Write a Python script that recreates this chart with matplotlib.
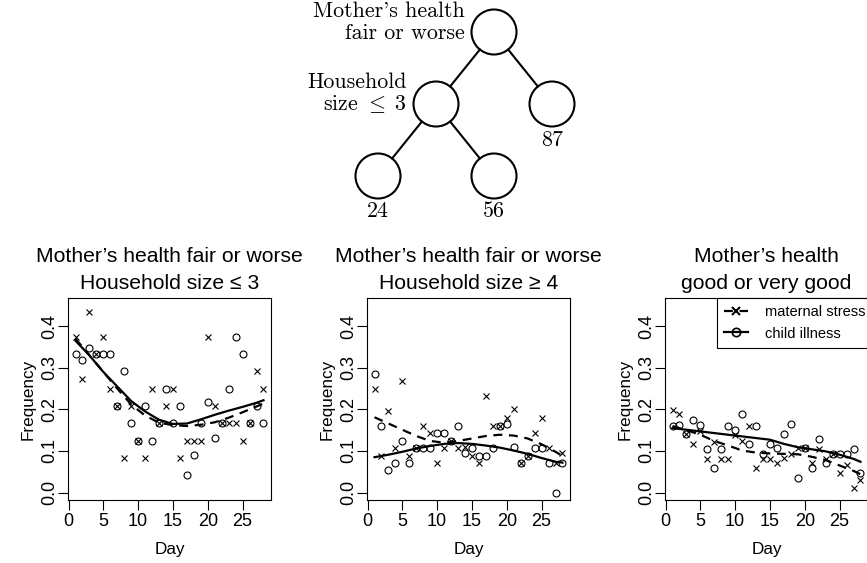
import numpy as np
import matplotlib
matplotlib.use("Agg")
import matplotlib.pyplot as plt
from matplotlib import font_manager
from matplotlib.lines import Line2D
from matplotlib.patches import Circle

# ---- data ----
days = list(range(1, 29))
fit_days = [1, 3, 5, 7, 9, 11, 13, 15, 17, 19, 21, 23, 25, 27, 28]

# panel 1: mother's health fair or worse, household size <= 3
p1_stress = [0.375, 0.273, 0.435, 0.333, 0.375, 0.25, 0.208, 0.083, 0.208, 0.125,
             0.083, 0.25, 0.167, 0.208, 0.25, 0.083, 0.125, 0.125, 0.125, 0.375,
             0.208, 0.167, 0.167, 0.167, 0.125, 0.167, 0.292, 0.25]
p1_illness = [0.333, 0.32, 0.348, 0.333, 0.333, 0.333, 0.208, 0.292, 0.167, 0.125,
              0.208, 0.125, 0.167, 0.25, 0.167, 0.208, 0.042, 0.09, 0.167, 0.217,
              0.13, 0.167, 0.25, 0.375, 0.333, 0.167, 0.208, 0.167]
p1_fit_stress = [0.37, 0.33, 0.29, 0.25, 0.212, 0.185, 0.168, 0.162, 0.16, 0.163,
                 0.169, 0.18, 0.193, 0.207, 0.214]
p1_fit_illness = [0.365, 0.33, 0.29, 0.255, 0.22, 0.195, 0.175, 0.165, 0.166, 0.176,
                  0.187, 0.197, 0.206, 0.216, 0.222]

# panel 2: mother's health fair or worse, household size >= 4
p2_stress = [0.25, 0.089, 0.196, 0.107, 0.268, 0.089, 0.107, 0.161, 0.143, 0.071,
             0.107, 0.125, 0.107, 0.11, 0.089, 0.071, 0.232, 0.161, 0.161, 0.179,
             0.2, 0.071, 0.089, 0.143, 0.179, 0.107, 0.071, 0.094]
p2_illness = [0.286, 0.161, 0.054, 0.071, 0.125, 0.071, 0.107, 0.107, 0.107, 0.143,
              0.143, 0.125, 0.161, 0.094, 0.106, 0.089, 0.089, 0.107, 0.161, 0.164,
              0.11, 0.071, 0.089, 0.107, 0.107, 0.071, 0.0, 0.071]
p2_fit_stress = [0.181, 0.166, 0.151, 0.136, 0.124, 0.12, 0.124, 0.13, 0.136, 0.139,
                 0.137, 0.13, 0.116, 0.098, 0.088]
p2_fit_illness = [0.085, 0.091, 0.098, 0.106, 0.112, 0.117, 0.119, 0.117, 0.113, 0.108,
                  0.101, 0.093, 0.083, 0.074, 0.072]

# panel 3: mother's health good or very good
p3_stress = [0.199, 0.19, 0.14, 0.116, 0.149, 0.081, 0.122, 0.081, 0.081, 0.139,
             0.125, 0.161, 0.058, 0.081, 0.081, 0.07, 0.082, 0.093, 0.106, 0.106,
             0.07, 0.105, 0.08, 0.093, 0.046, 0.066, 0.012, 0.03]
p3_illness = [0.161, 0.163, 0.14, 0.175, 0.163, 0.104, 0.06, 0.105, 0.161, 0.151,
              0.19, 0.117, 0.161, 0.092, 0.116, 0.106, 0.14, 0.165, 0.034, 0.106,
              0.058, 0.128, 0.07, 0.093, 0.093, 0.093, 0.105, 0.046]
p3_fit_stress = [0.16, 0.15, 0.139, 0.124, 0.113, 0.101, 0.096, 0.094, 0.093, 0.092,
                 0.086, 0.078, 0.065, 0.052, 0.044]
p3_fit_illness = [0.155, 0.151, 0.147, 0.143, 0.139, 0.135, 0.131, 0.127, 0.117, 0.109,
                  0.104, 0.099, 0.091, 0.081, 0.074]

titles = [("Mother\u2019s health fair or worse", "Household size \u2264 3"),
          ("Mother\u2019s health fair or worse", "Household size \u2265 4"),
          ("Mother\u2019s health", "good or very good")]
series_labels = ["maternal stress", "child illness"]

# tree: node label lines and leaf counts
root_label = ["Mother's health", "fair or worse"]
split_label = ["Household", r"size $\leq\;3$"]
leaf_counts = ["87", "24", "56"]

# ---- fonts ----
installed = {f.name for f in font_manager.fontManager.ttflist}
if "Liberation Sans Narrow" in installed:
    SANS = ["Liberation Sans Narrow", "Liberation Sans", "DejaVu Sans"]
    fs_title, fs_tick, fs_lab, fs_leg = 18, 15, 14.5, 12.5
else:
    SANS = ["Liberation Sans", "DejaVu Sans"]
    fs_title, fs_tick, fs_lab, fs_leg = 15.2, 13, 12.3, 10.5
plt.rcParams["font.family"] = SANS
plt.rcParams["mathtext.fontset"] = "cm"

W, H = 867, 563
fig = plt.figure(figsize=(W / 100, H / 100), dpi=100)


def add_px_axes(left, top, width, height):
    return fig.add_axes([left / W, 1 - (top + height) / H, width / W, height / H])


def panel(ax, stress, illness, fit_stress, fit_illness, title, legend=False):
    ax.plot(days, stress, ls="none", marker="x", ms=5, mew=0.8, color="black")
    ax.plot(days, illness, ls="none", marker="o", ms=5, mew=0.8, mfc="none", color="black")
    ax.plot(fit_days, fit_stress, ls=(0, (4, 3)), lw=1.6, color="black")
    ax.plot(fit_days, fit_illness, ls="-", lw=1.6, color="black")
    ax.set_xlim(-0.08, 29.08)
    ax.set_ylim(-0.018, 0.468)
    ax.set_xticks([0, 5, 10, 15, 20, 25])
    ax.set_yticks([0, 0.1, 0.2, 0.3, 0.4])
    ax.set_yticklabels(["0.0", "0.1", "0.2", "0.3", "0.4"], rotation=90, va="center")
    ax.tick_params(length=7, width=0.8, labelsize=fs_tick)
    ax.tick_params(axis="x", pad=2)
    ax.tick_params(axis="y", pad=0)
    for s in ax.spines.values():
        s.set_linewidth(0.8)
    ax.set_xlabel("Day", fontsize=fs_lab, labelpad=9)
    ax.set_ylabel("Frequency", fontsize=fs_lab, labelpad=4)
    ax.text(0.5, 1 + 36 / 202, title[0], transform=ax.transAxes, ha="center",
            va="baseline", fontsize=fs_title)
    ax.text(0.5, 1 + 9 / 202, title[1], transform=ax.transAxes, ha="center",
            va="baseline", fontsize=fs_title)
    if legend:
        handles = [Line2D([], [], color="black", ls=(0, (4, 3)), lw=1.6, marker="x",
                          ms=6, mew=1.5),
                   Line2D([], [], color="black", ls="-", lw=1.6, marker="o",
                          ms=6, mew=1.2, mfc="none")]
        leg = ax.legend(handles, series_labels, loc="upper right",
                        bbox_to_anchor=(1 + 5 / 203, 1), borderaxespad=0,
                        fancybox=False, edgecolor="black", framealpha=1,
                        fontsize=fs_leg, handlelength=1.6, handletextpad=1.2,
                        borderpad=0.5, labelspacing=0.5)
        leg.get_frame().set_linewidth(0.8)


ax1 = add_px_axes(68, 298, 203, 202)
ax2 = add_px_axes(367, 298, 203, 202)
ax3 = add_px_axes(665, 298, 203, 202)
panel(ax1, p1_stress, p1_illness, p1_fit_stress, p1_fit_illness, titles[0])
panel(ax2, p2_stress, p2_illness, p2_fit_stress, p2_fit_illness, titles[1])
panel(ax3, p3_stress, p3_illness, p3_fit_stress, p3_fit_illness, titles[2], legend=True)

# ---- tree diagram (figure pixel coordinates) ----
tree = fig.add_axes([0, 0, 1, 1], zorder=-1)
tree.set_xlim(0, W)
tree.set_ylim(H, 0)
tree.axis("off")
r = 22.5
nodes = {"root": (494, 32), "split": (436, 104), "right": (552, 104),
         "leaf_a": (378, 176), "leaf_b": (494, 176)}
edges = [("root", "split"), ("root", "right"), ("split", "leaf_a"), ("split", "leaf_b")]
for x, y in nodes.values():
    tree.add_patch(Circle((x, y), r, fill=False, lw=1.5, ec="black"))
for a, b in edges:
    p, q = np.array(nodes[a], float), np.array(nodes[b], float)
    d = (q - p) / np.hypot(*(q - p))
    s, e = p + d * r, q - d * r
    tree.plot([s[0], e[0]], [s[1], e[1]], color="black", lw=1.5)

serif = ["cmr10", "DejaVu Serif"]
tfs = 15.8
tree.text(465, 17, root_label[0], ha="right", va="baseline", family=serif, fontsize=tfs)
tree.text(465, 39, root_label[1], ha="right", va="baseline", family=serif, fontsize=tfs)
tree.text(407, 88, split_label[0], ha="right", va="baseline", family=serif, fontsize=tfs)
tree.text(407, 110, split_label[1], ha="right", va="baseline", family=serif, fontsize=tfs)
tree.text(552, 146, leaf_counts[0], ha="center", va="baseline", family=serif, fontsize=tfs)
tree.text(378, 217, leaf_counts[1], ha="center", va="baseline", family=serif, fontsize=tfs)
tree.text(494, 217, leaf_counts[2], ha="center", va="baseline", family=serif, fontsize=tfs)

fig.savefig("out.png", dpi=100)
